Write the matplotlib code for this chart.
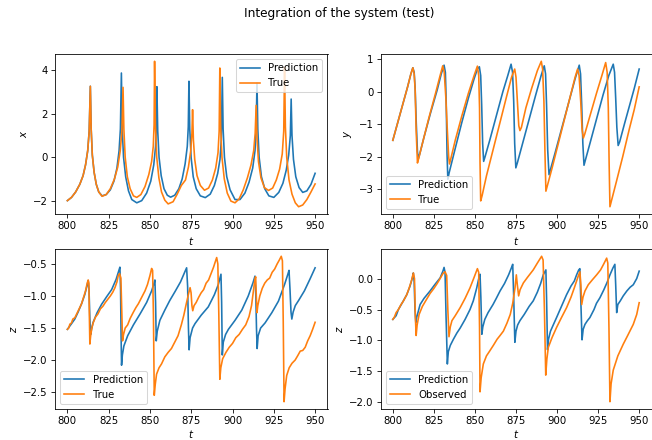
import matplotlib
matplotlib.use("Agg")
import matplotlib.pyplot as plt

# ---------------- data (time, value) ----------------
x_pred = [(800,-2.0),(802.5,-1.85),(805,-1.6),(807.5,-1.25),(809.5,-0.85),(811,-0.35),(812.3,0.3),(813.2,1.2),(813.9,3.27),(814.4,1.3),(815.1,0.1),(816.2,-0.7),(817.5,-1.25),(819,-1.6),(821,-1.78),(823.5,-1.72),(826,-1.5),(828.2,-1.1),(830,-0.5),(831.3,0.3),(832.1,1.3),(832.7,3.88),(833.2,1.3),(834,0.0),(835.3,-0.9),(837,-1.55),(839,-1.95),(842,-2.1),(845,-2.0),(848,-1.65),(850.5,-1.1),(852.3,-0.35),(853.4,0.5),(853.9,1.5),(854.2,3.25),(854.7,1.2),(855.5,0.0),(856.8,-0.85),(858.5,-1.45),(860.5,-1.75),(862.5,-1.84),(865,-1.75),(867.5,-1.45),(869.5,-1.0),(871.3,-0.3),(872.6,0.5),(873.2,1.4),(873.6,3.5),(874.1,1.3),(874.9,0.0),(876.2,-0.9),(878,-1.45),(880.5,-1.78),(883.5,-1.86),(886.5,-1.7),(889,-1.3),(891,-0.75),(892.4,-0.1),(893.2,0.8),(893.8,3.68),(894.3,1.3),(895.1,0.0),(896.5,-0.9),(898.5,-1.5),(901.5,-1.95),(904.5,-1.95),(907.5,-1.65),(910,-1.15),(912.2,-0.5),(913.6,0.3),(914.3,1.3),(914.8,3.42),(915.3,1.3),(916.1,0.0),(917.5,-0.9),(919.5,-1.45),(922,-1.78),(925,-1.85),(928,-1.62),(930.5,-1.2),(932.5,-0.6),(934,0.1),(935,1.0),(935.5,2.68),(936,1.0),(936.9,-0.1),(938.3,-0.9),(940.3,-1.4),(942.5,-1.62),(945,-1.55),(947.5,-1.25),(950,-0.74)]

x_true = [(800,-2.0),(802.5,-1.85),(805,-1.6),(807.5,-1.25),(809.5,-0.85),(811,-0.35),(812.3,0.3),(813.2,1.2),(813.9,3.27),(814.4,1.3),(815.1,0.1),(816.2,-0.7),(817.5,-1.25),(819,-1.6),(821,-1.8),(823.5,-1.72),(826,-1.45),(828.5,-1.0),(830.5,-0.45),(832,0.3),(833,1.2),(833.7,3.22),(834.2,1.3),(835,0.0),(836.3,-0.9),(838,-1.45),(840,-1.78),(842,-1.85),(844.5,-1.72),(847,-1.35),(849.3,-0.8),(851,-0.2),(852,0.5),(852.5,1.5),(852.8,4.42),(853.3,1.5),(854.1,0.0),(855.4,-0.95),(857,-1.6),(859,-1.98),(861,-2.15),(864,-2.05),(866.5,-1.7),(869,-1.3),(871.5,-1.05),(873.3,-0.45),(874.7,0.3),(875.4,1.1),(875.8,2.19),(876.3,0.8),(877.1,-0.1),(878.5,-0.85),(880.5,-1.3),(883,-1.52),(885.5,-1.42),(887.8,-1.05),(889.8,-0.5),(891.2,0.2),(891.9,1.2),(892.3,4.11),(892.8,1.4),(893.6,0.0),(895,-1.0),(896.8,-1.65),(899,-2.02),(901.5,-2.1),(904,-1.92),(906.5,-1.5),(909,-0.95),(911.2,-0.35),(912.8,0.3),(913.7,1.1),(914.3,2.39),(914.8,0.9),(915.7,-0.2),(917.2,-0.95),(919.3,-1.4),(921.8,-1.53),(924.3,-1.42),(926.5,-1.05),(928.5,-0.55),(930.1,0.15),(931,1.2),(931.5,4.15),(932,1.4),(932.8,0.0),(934.2,-1.05),(936,-1.7),(938,-2.1),(940,-2.28),(942.5,-2.2),(945,-1.95),(947.5,-1.6),(950,-1.23)]

y_pred = [(800,-1.5),(803,-0.95),(806,-0.4),(809,0.15),(811,0.55),(812.2,0.74),(813,0.6),(813.6,0.1),(814.3,-1.0),(815,-1.85),(815.6,-2.06),(816.5,-1.9),(819,-1.4),(823,-0.65),(827,0.05),(829.5,0.55),(831.2,0.82),(832,0.6),(832.5,-0.3),(833,-1.9),(833.5,-2.7),(834.3,-2.5),(838,-1.75),(842,-0.95),(846,-0.2),(849.5,0.4),(851.5,0.7),(852.7,0.77),(853.5,0.5),(854.1,-0.4),(854.7,-1.6),(855.3,-2.15),(856.2,-2.0),(859,-1.5),(863,-0.75),(867,0.0),(870,0.5),(872,0.85),(872.9,0.6),(873.6,-0.3),(874.2,-1.6),(874.9,-2.35),(875.8,-2.2),(879,-1.6),(883,-0.85),(887,-0.1),(890.3,0.5),(892.2,0.8),(893,0.55),(893.6,-0.4),(894.3,-1.8),(895.1,-2.56),(896,-2.4),(899,-1.85),(903,-1.1),(907,-0.35),(911,0.4),(913.5,0.82),(914.3,0.55),(915,-0.4),(915.7,-1.6),(916.4,-2.27),(917.3,-2.1),(920,-1.6),(924,-0.85),(928,-0.1),(931.5,0.5),(934.2,0.85),(935,0.6),(935.7,-0.2),(936.4,-1.1),(937.2,-1.66),(938.1,-1.55),(941,-1.0),(944,-0.45),(947,0.1),(950,0.7)]

y_true = [(800,-1.5),(803,-0.95),(806,-0.4),(809,0.15),(811,0.55),(812.2,0.74),(813,0.55),(813.6,0.05),(814.2,-1.2),(815,-2.2),(815.8,-2.05),(818,-1.6),(822,-0.8),(826,-0.05),(828.8,0.5),(830.4,0.8),(831.3,0.6),(832.3,-0.2),(833.2,-1.2),(834,-2.0),(834.5,-2.23),(835.4,-2.05),(838,-1.5),(842,-0.75),(846,-0.05),(849.5,0.5),(851.5,0.79),(852.3,0.5),(852.8,-0.5),(853.1,-2.2),(853.5,-3.37),(854.4,-3.2),(857,-2.6),(861,-1.8),(865,-1.0),(869,-0.2),(872.3,0.45),(874.2,0.7),(875,0.45),(875.9,-0.35),(876.7,-1.05),(877.4,-1.2),(878.3,-1.1),(881,-0.5),(884.5,0.1),(888,0.65),(890.4,0.94),(891.2,0.7),(892,-0.3),(892.6,-1.8),(893.2,-3.07),(894.1,-2.9),(897,-2.35),(901,-1.55),(905,-0.75),(909,0.05),(911,0.45),(912.5,0.7),(913.4,0.5),(914.4,-0.3),(915.2,-1.15),(916,-1.43),(916.9,-1.3),(920,-0.75),(924,-0.05),(927.3,0.5),(929.6,0.9),(930.5,0.6),(931.2,-0.5),(931.7,-2.2),(932.2,-3.55),(933.2,-3.35),(936,-2.8),(940,-2.0),(944,-1.15),(947,-0.55),(950,0.15)]

z_pred = [(800,-1.52),(802,-1.45),(804.5,-1.36),(806.5,-1.25),(808.6,-1.12),(810.5,-0.98),(812,-0.83),(812.6,-0.76),(813.1,-0.9),(813.6,-1.35),(814.1,-1.6),(814.6,-1.52),(815.6,-1.41),(818,-1.26),(820.7,-1.13),(823.8,-1.01),(826.8,-0.9),(829.5,-0.74),(831.2,-0.6),(831.8,-0.55),(832.2,-0.9),(832.5,-1.6),(832.8,-2.08),(833.3,-1.92),(834.2,-1.78),(836.5,-1.62),(840,-1.45),(844,-1.28),(848,-1.1),(851,-0.92),(852.5,-0.8),(853,-0.75),(853.4,-1.1),(853.8,-1.7),(854.4,-1.55),(856,-1.38),(859,-1.22),(862,-1.07),(865.2,-0.93),(868.5,-0.78),(871,-0.63),(872.2,-0.56),(872.8,-0.85),(873.3,-1.5),(873.7,-1.84),(874.3,-1.65),(875.8,-1.5),(877.3,-1.43),(881,-1.3),(885.3,-1.17),(889,-0.98),(891.4,-0.82),(893,-0.66),(893.4,-1.1),(893.8,-1.92),(894.4,-1.72),(895.8,-1.6),(897.5,-1.52),(901.5,-1.38),(905.6,-1.22),(909.5,-1.0),(912.3,-0.8),(913.6,-0.69),(914.1,-1.0),(914.5,-1.5),(914.9,-1.82),(915.5,-1.62),(917,-1.5),(919.7,-1.42),(923.8,-1.26),(927.8,-1.08),(931.5,-0.82),(933.5,-0.66),(934.2,-0.6),(934.8,-0.9),(935.4,-1.25),(935.9,-1.36),(936.7,-1.25),(938,-1.15),(940,-1.07),(943.5,-0.92),(947,-0.73),(950,-0.56)]

z_true = [(800,-1.52),(800.8,-1.5),(801.5,-1.44),(802.5,-1.42),(803.3,-1.36),(804.5,-1.34),(806,-1.26),(807.5,-1.18),(808.6,-1.12),(809.8,-1.02),(811,-0.92),(812,-0.8),(812.6,-0.75),(813,-0.8),(813.3,-1.3),(813.6,-1.75),(814.1,-1.62),(814.8,-1.5),(815.6,-1.42),(817,-1.33),(818.5,-1.28),(820,-1.2),(821.5,-1.16),(823,-1.1),(824.5,-1.05),(826,-1.0),(827.5,-0.94),(828.8,-0.87),(830,-0.78),(830.8,-0.68),(831.6,-0.65),(832.4,-0.72),(832.9,-1.2),(833.4,-1.7),(834,-1.6),(835,-1.5),(836.5,-1.45),(838,-1.35),(840,-1.25),(841.5,-1.18),(843,-1.12),(845,-1.02),(847,-0.92),(848.5,-0.82),(850,-0.68),(851,-0.57),(851.6,-0.6),(852.1,-1.3),(852.6,-2.55),(853.2,-2.38),(854,-2.22),(855.5,-2.12),(857,-2.06),(859,-1.95),(861,-1.88),(863,-1.82),(865,-1.72),(867,-1.62),(869,-1.45),(870.5,-1.3),(872,-1.12),(873.5,-0.95),(874.3,-0.87),(874.9,-0.95),(875.4,-1.15),(875.9,-1.23),(876.7,-1.15),(878,-1.1),(879.5,-1.02),(881,-0.95),(882.5,-0.9),(884,-0.8),(885.5,-0.75),(887,-0.65),(888.5,-0.55),(889.5,-0.47),(890.4,-0.4),(891.1,-0.5),(891.7,-1.3),(892.3,-2.3),(892.9,-2.12),(894,-1.98),(896,-1.88),(898,-1.8),(900,-1.74),(902,-1.65),(904,-1.6),(906,-1.52),(908,-1.45),(910,-1.32),(911.5,-1.15),(912.5,-0.95),(913.5,-0.75),(914,-0.7),(914.4,-1.0),(914.8,-1.26),(915.3,-1.15),(916.5,-1.0),(918,-0.88),(919.5,-0.8),(921,-0.75),(922.5,-0.72),(924,-0.63),(925.5,-0.58),(927,-0.5),(928.3,-0.44),(929.5,-0.38),(930.2,-0.45),(930.7,-1.4),(931.2,-2.65),(931.8,-2.45),(932.8,-2.24),(934.3,-2.12),(936,-2.05),(937.9,-2.0),(939.5,-1.93),(941,-1.86),(942.5,-1.85),(944,-1.8),(945.5,-1.7),(947,-1.62),(948.5,-1.52),(950,-1.41)]

zo_pred = [(800,-0.66),(802,-0.6),(803.4,-0.5),(806,-0.38),(808.5,-0.26),(810.5,-0.12),(812,0.02),(812.5,0.09),(813,-0.05),(813.5,-0.5),(814,-0.71),(814.6,-0.62),(815.6,-0.52),(816.6,-0.42),(819,-0.32),(822.7,-0.2),(825.5,-0.1),(828.8,0.01),(830.5,0.12),(831.2,0.18),(831.8,0.1),(832.4,-0.6),(833.2,-1.38),(833.8,-1.18),(835,-1.08),(836.9,-0.98),(839,-0.88),(841,-0.8),(844,-0.66),(847,-0.5),(849,-0.36),(851.1,-0.15),(852.3,0.0),(853.1,0.07),(853.6,-0.3),(854.2,-0.9),(854.8,-0.78),(856,-0.66),(858,-0.55),(861,-0.42),(863,-0.32),(865.3,-0.2),(868,-0.08),(870.5,0.06),(872.3,0.18),(873,0.23),(873.6,-0.3),(874.3,-1.03),(875,-0.85),(876,-0.75),(877.4,-0.68),(880,-0.58),(883,-0.45),(885.5,-0.36),(888,-0.22),(890,-0.08),(891.6,0.06),(893.2,0.14),(893.6,-0.3),(894.2,-1.15),(894.8,-0.98),(896,-0.85),(897.5,-0.76),(899.7,-0.63),(902.5,-0.46),(905.8,-0.26),(908.5,-0.12),(910.5,-0.04),(911.9,0.06),(913.2,0.14),(913.9,0.16),(914.4,-0.3),(915.2,-0.99),(915.9,-0.82),(917,-0.74),(918.5,-0.68),(920,-0.63),(922.5,-0.5),(924,-0.4),(926.1,-0.31),(928.5,-0.18),(930.5,-0.06),(932.2,0.06),(934,0.17),(935.2,0.23),(935.7,-0.1),(936.3,-0.55),(937,-0.42),(938.5,-0.36),(940.3,-0.28),(942.5,-0.2),(944.5,-0.14),(946.4,-0.1),(948.5,0.0),(950,0.12)]

zo_obs = [(800,-0.66),(801,-0.62),(802,-0.55),(803.4,-0.5),(805,-0.42),(806.5,-0.36),(808.5,-0.26),(810,-0.15),(811.5,-0.02),(812.5,0.09),(813.2,0.0),(813.7,-0.6),(814.2,-0.92),(814.8,-0.75),(816,-0.58),(818,-0.45),(820,-0.36),(822.7,-0.24),(825,-0.16),(827,-0.08),(828.8,0.0),(830.5,0.08),(831.8,0.11),(832.8,0.05),(833.5,-0.5),(834.2,-0.94),(835,-0.78),(836,-0.68),(838,-0.6),(841,-0.47),(844,-0.32),(847,-0.15),(849.5,0.02),(851.5,0.16),(852.3,0.1),(852.8,-0.8),(853.1,-1.83),(853.8,-1.6),(855.1,-1.38),(857,-1.25),(859,-1.17),(861.2,-1.08),(863.5,-0.98),(865.3,-0.92),(867.3,-0.85),(869.5,-0.72),(871.5,-0.58),(873,-0.4),(874.4,-0.15),(875.2,0.06),(875.8,-0.1),(876.6,-0.28),(877.5,-0.18),(879.5,-0.07),(882,0.02),(885.5,0.14),(888,0.25),(890.6,0.36),(891.5,0.3),(892.3,-0.5),(893.1,-1.56),(893.8,-1.3),(894.7,-1.11),(897,-0.95),(899.7,-0.79),(902.5,-0.64),(905.8,-0.47),(908.5,-0.3),(910.5,-0.15),(912.9,0.04),(913.9,0.11),(914.5,-0.1),(915,-0.42),(915.8,-0.3),(917,-0.2),(919,-0.1),(921.5,-0.02),(924.1,0.06),(926.5,0.14),(928.5,0.24),(930.2,0.33),(930.9,0.25),(931.6,-0.8),(932.2,-1.99),(932.9,-1.7),(934.2,-1.48),(937,-1.25),(940.3,-1.06),(943,-0.92),(946.4,-0.74),(948.5,-0.58),(950,-0.39)]

title = "Integration of the system (test)"
panels = [
    (x_pred, x_true, "$x$", ["Prediction", "True"], "upper right"),
    (y_pred, y_true, "$y$", ["Prediction", "True"], "lower left"),
    (z_pred, z_true, "$z$", ["Prediction", "True"], "lower left"),
    (zo_pred, zo_obs, "$z$", ["Prediction", "Observed"], "lower left"),
]

DPI = 73
fig = plt.figure(figsize=(652 / DPI, 440 / DPI), dpi=DPI)
W, H = 652.0, 440.0
boxes = [(55, 54, 272.5, 160), (380.5, 54, 271, 160),
         (55, 249, 272.5, 160), (380.5, 249, 271, 160)]

for i, ((pred, true, ylab, labels, loc), (l, t, w, h)) in enumerate(zip(panels, boxes)):
    ax = fig.add_axes([l / W, 1 - (t + h) / H, w / W, h / H])
    tp, vp = zip(*pred)
    tt, vt = zip(*true)
    ax.plot(tp, vp, color="tab:blue", label=labels[0], lw=1.6)
    ax.plot(tt, vt, color="tab:orange", label=labels[1], lw=1.6)
    ax.set_xticks([800, 825, 850, 875, 900, 925, 950])
    ax.set_xlabel("$t$", labelpad=2 if i >= 2 else 4)
    ax.set_ylabel(ylab)
    ax.legend(loc=loc)

fig.suptitle(title, x=0.52, y=0.985)
fig.savefig("out.png", dpi=DPI)
